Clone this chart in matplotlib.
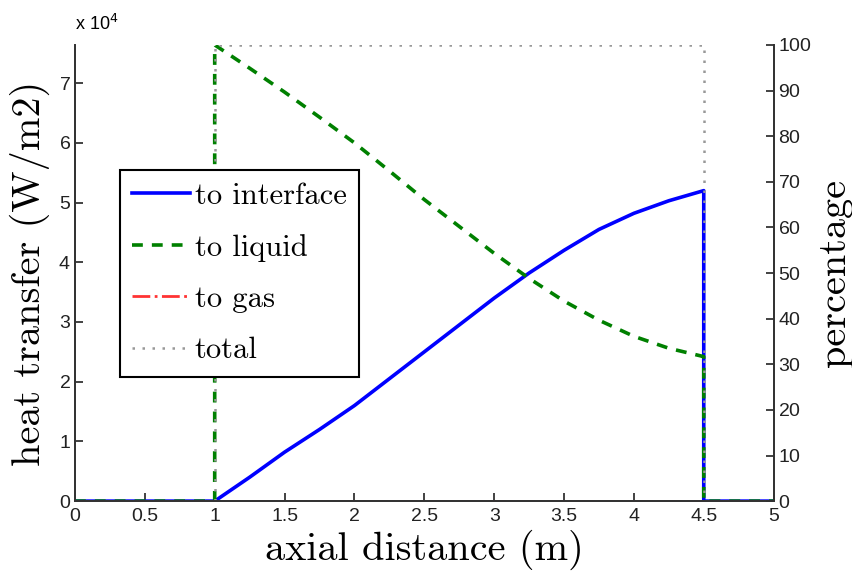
"""Heat transfer split along the axial distance."""
import matplotlib
matplotlib.use("Agg")
import matplotlib.pyplot as plt

# data (heat transfer in units of 1e4 W/m2)
x_pos = [0, 1, 1, 1.25, 1.5, 1.75, 2, 2.25, 2.5, 2.75, 3, 3.25, 3.5, 3.75, 4, 4.25, 4.5, 4.5, 5]
to_interface = [0, 0, 0, 0.4, 0.82, 1.2, 1.6, 2.05, 2.5, 2.95, 3.4, 3.82, 4.2, 4.55, 4.82, 5.03, 5.2, 0, 0]
to_liquid = [0, 0, 7.64, 7.25, 6.85, 6.43, 6.0, 5.53, 5.05, 4.6, 4.15, 3.73, 3.35, 3.03, 2.76, 2.56, 2.42, 0, 0]
to_gas = [0] * 19
total = [0, 0] + [7.64] * 15 + [0, 0]

x_ticks = [0, 0.5, 1, 1.5, 2, 2.5, 3, 3.5, 4, 4.5, 5]
x_labels = ["0", "0.5", "1", "1.5", "2", "2.5", "3", "3.5", "4", "4.5", "5"]
left_ticks = [0, 1, 2, 3, 4, 5, 6, 7]
right_ticks = [0, 10, 20, 30, 40, 50, 60, 70, 80, 90, 100]

plt.rcParams["font.family"] = "Liberation Sans"
plt.rcParams["axes.formatter.use_mathtext"] = True

fig = plt.figure(figsize=(8.52, 5.76), dpi=100)
ax = fig.add_axes([0.088, 0.13, 0.82, 0.792])
ax2 = ax.twinx()

ax.plot(x_pos, to_interface, color="#0000ff", lw=2.6, ls="-", label="to interface")
ax.plot(x_pos, to_liquid, color="#008000", lw=2.6, ls=(0, (3, 2.5)), label="to liquid")
ax.plot(x_pos, to_gas, color="#ff0000", lw=2.0, ls="-.", label="to gas", alpha=0.8)
ax.plot(x_pos, total, color="#999999", lw=1.8, ls=(0, (1, 3)), label="total")

ax.set_xlim(0, 5)
ax.set_ylim(0, 7.64)
ax2.set_ylim(0, 100)
ax.set_xticks(x_ticks)
ax.set_xticklabels(x_labels)
ax.set_yticks(left_ticks)
ax2.set_yticks(right_ticks)

for a in (ax, ax2):
    a.spines["top"].set_visible(False)
    a.tick_params(direction="in", length=6, width=1.2, labelsize=14, colors="#222222")
    for s in a.spines.values():
        s.set_linewidth(1.3)
        s.set_color("#333333")
ax.tick_params(axis="x", pad=5)
ax.tick_params(axis="y", pad=3)
ax2.tick_params(axis="y", pad=3)

ax.set_xlabel("axial distance (m)", fontname="cmr10", fontsize=29, labelpad=3)
ax.set_ylabel("heat transfer (W/m2)", fontname="cmr10", fontsize=29, labelpad=6)
ax2.set_ylabel("percentage", fontname="cmr10", fontsize=29, labelpad=4)
ax.text(0, 1.025, r"x 10$^4$", transform=ax.transAxes, fontsize=13, ha="left", va="bottom")

leg = ax.legend(loc="upper left", bbox_to_anchor=(0.064, 0.725), prop={"family": "cmr10", "size": 22},
                fancybox=False, edgecolor="black", framealpha=1, handlelength=1.9,
                handletextpad=0.15, borderpad=0.4, labelspacing=0.78, borderaxespad=0)
leg.get_frame().set_linewidth(1.5)

fig.savefig("out.png", dpi=100)
